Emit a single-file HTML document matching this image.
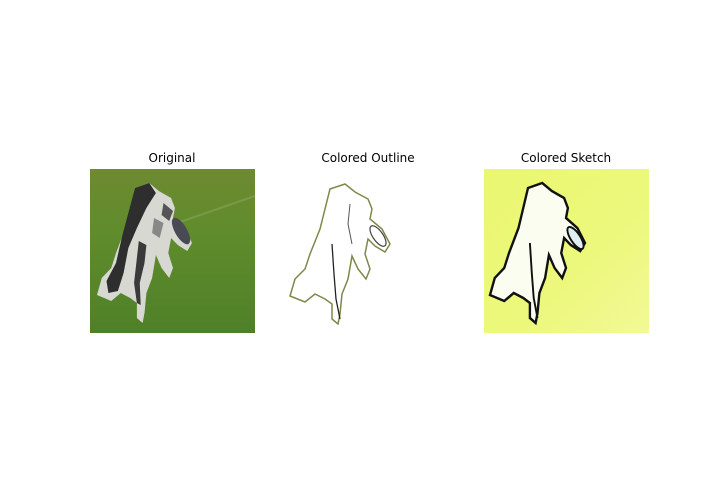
<!DOCTYPE html>
<html><head><meta charset="utf-8"><style>
html,body{margin:0;padding:0;background:#fff}
svg{display:block}
text{font-family:"DejaVu Sans","Liberation Sans",sans-serif;font-size:12px;fill:#000}
</style></head><body>
<svg width="720" height="504" viewBox="0 0 720 504">
<defs>
<linearGradient id="grass" x1="0" y1="0" x2="0" y2="1">
<stop offset="0" stop-color="#6e8a32"/><stop offset="0.4" stop-color="#5f8c2c"/><stop offset="1" stop-color="#4f8028"/>
</linearGradient>
<linearGradient id="yel" x1="0" y1="0" x2="1" y2="1">
<stop offset="0" stop-color="#eaf770"/><stop offset="0.6" stop-color="#ecf87c"/><stop offset="1" stop-color="#f2f996"/>
</linearGradient>
<path id="dog" d="M40,5 L55,0 L65,8 L78,15 L82,25 L80,35 L92,45 L100,60 L95,68 L85,62 L78,55 L75,70 L80,85 L76,95 L68,85 L62,72 L58,95 L52,110 L50,130 L48,140 L42,135 L42,120 L35,115 L25,110 L15,118 L0,112 L5,95 L15,85 L20,70 L30,45 L35,25 Z"/>
</defs>

<g>
<text x="172" y="162" text-anchor="middle">Original</text>
<rect x="90" y="169" width="165" height="164" fill="url(#grass)"/>
<path d="M180,222 L255,196" stroke="#8fa860" stroke-width="2" opacity="0.5"/>
<g transform="translate(97,183) scale(0.95,1)">
<use href="#dog" fill="#d8d8d2"/>
<path d="M40,5 L55,0 L62,10 L52,25 L42,45 L33,65 L28,90 L22,108 L12,110 L10,98 L20,80 L26,55 L33,30 Z" fill="#2e2e2e"/>
<path d="M44,58 L52,62 L50,80 L45,100 L46,122 L42,120 L39,100 Z" fill="#3a3a3a"/>
<path d="M70,20 L80,28 L76,38 L68,32 Z" fill="#555"/>
<path d="M60,35 L70,40 L66,55 L58,50 Z" fill="#888"/>
</g>
<ellipse cx="181" cy="231" rx="6" ry="15" transform="rotate(-30 181 231)" fill="#4a4a55"/>
</g>

<g>
<text x="368" y="162" text-anchor="middle">Colored Outline</text>
<g transform="translate(290,184)">
<use href="#dog" fill="none" stroke="#7a8a4a" stroke-width="1.5"/>
<path d="M42,60 L44,90 L46,115 L50,135" fill="none" stroke="#222" stroke-width="1.3"/>
<path d="M60,20 L58,40 L62,60" fill="none" stroke="#555" stroke-width="1"/>
<ellipse cx="88" cy="52" rx="5" ry="12" transform="rotate(-35 88 52)" fill="none" stroke="#444" stroke-width="1.2"/>
</g>
</g>

<g>
<text x="566" y="162" text-anchor="middle">Colored Sketch</text>
<rect x="484" y="169" width="165" height="164" fill="url(#yel)"/>
<g transform="translate(490,183) scale(0.95,1)">
<use href="#dog" fill="#fbfdf0" stroke="#111" stroke-width="2.5"/>
<path d="M42,60 L44,90 L46,115 L50,135" fill="none" stroke="#111" stroke-width="2"/>
<ellipse cx="90" cy="55" rx="5" ry="13" transform="rotate(-35 90 55)" fill="#dfeff0" stroke="#111" stroke-width="2"/>
</g>
</g>
</svg>
</body></html>
